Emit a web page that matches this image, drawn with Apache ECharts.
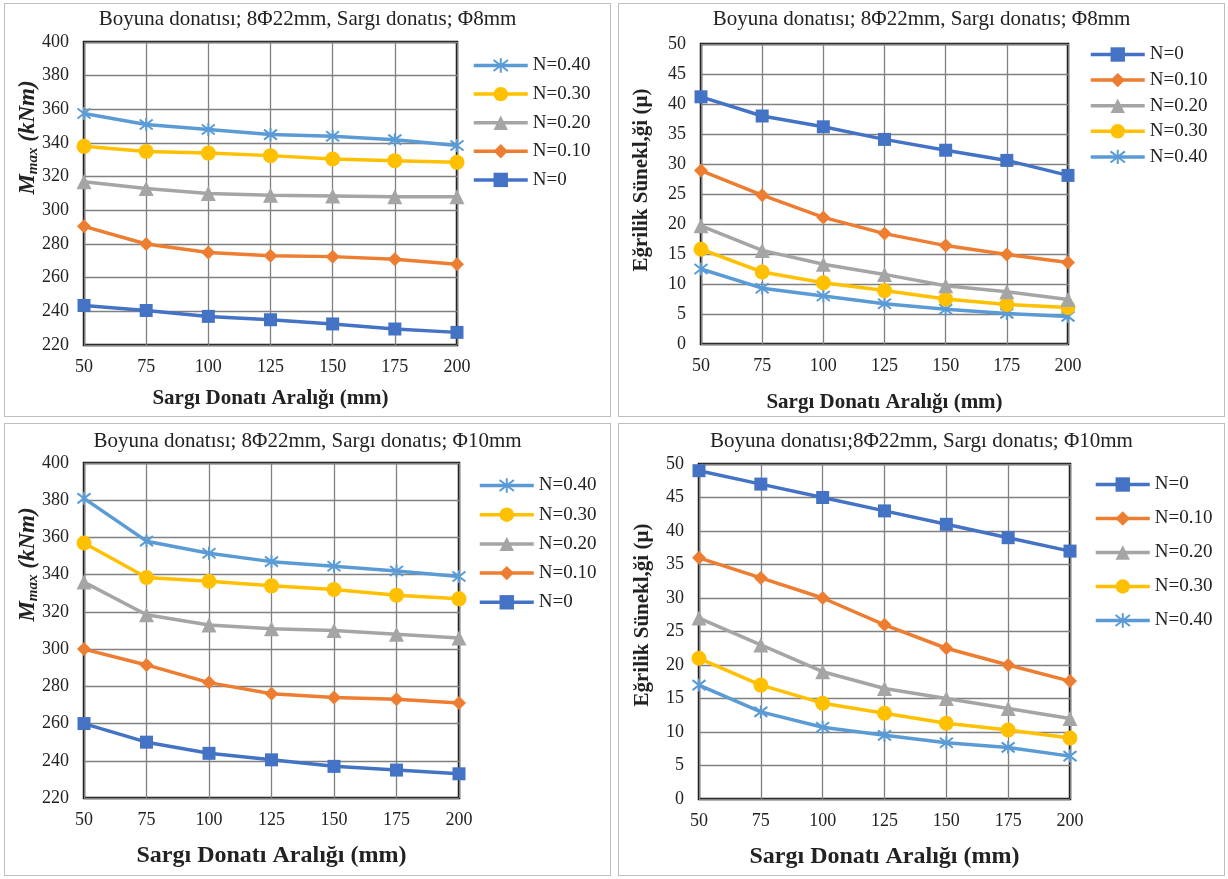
<!DOCTYPE html>
<html><head><meta charset="utf-8">
<script src="https://cdn.jsdelivr.net/npm/echarts@6/dist/echarts.min.js"></script>
<style>
html,body{margin:0;padding:0;background:#fff;width:1228px;height:879px;overflow:hidden}
.p{position:absolute;box-sizing:border-box;border:1px solid #BFBFBF;background:#fff}
</style></head><body>
<div id="c1" class="p" style="left:4px;top:3px;width:607px;height:414px"></div>
<div id="c2" class="p" style="left:618px;top:3px;width:607px;height:414px"></div>
<div id="c3" class="p" style="left:4px;top:423px;width:607px;height:453px"></div>
<div id="c4" class="p" style="left:618px;top:423px;width:607px;height:453px"></div>
<script>
// ---- data ----
const spacing = [50, 75, 100, 125, 150, 175, 200];
const seriesNames = ['N=0', 'N=0.10', 'N=0.20', 'N=0.30', 'N=0.40'];

// Panel 1: Mmax, Φ8
const m8_N0   = [243.5, 240.5, 237, 235, 232.5, 229.5, 227.5];
const m8_N010 = [290.5, 280, 275, 273, 272.5, 271, 268];
const m8_N020 = [317, 313, 310, 309, 308.5, 308, 308];
const m8_N030 = [338, 335, 334, 332.5, 330.5, 329.5, 328.5];
const m8_N040 = [357.5, 351, 348, 345, 344, 342, 338.5];

// Panel 2: curvature ductility, Φ8
const d8_N0   = [41.2, 38, 36.2, 34.1, 32.3, 30.6, 28.1];
const d8_N010 = [28.9, 24.8, 21.1, 18.4, 16.4, 14.9, 13.6];
const d8_N020 = [19.7, 15.6, 13.3, 11.6, 9.7, 8.7, 7.4];
const d8_N030 = [15.8, 12, 10.2, 8.9, 7.5, 6.6, 6.1];
const d8_N040 = [12.5, 9.3, 8.0, 6.7, 5.8, 5.1, 4.6];

// Panel 3: Mmax, Φ10
const m10_N0   = [260, 250, 244, 240.5, 237, 235, 233];
const m10_N010 = [300, 291.5, 282, 276, 274, 273, 271];
const m10_N020 = [336, 318.5, 313, 311, 310, 308, 306];
const m10_N030 = [357, 338.5, 336.5, 334, 332, 329, 327];
const m10_N040 = [381, 358, 351.5, 347, 344.5, 342, 339];

// Panel 4: curvature ductility, Φ10
const d10_N0   = [49, 47, 45, 43, 41, 39, 37];
const d10_N010 = [36, 33, 30, 26, 22.5, 20, 17.6];
const d10_N020 = [27, 23, 19, 16.5, 15, 13.5, 12];
const d10_N030 = [21, 17, 14.3, 12.8, 11.3, 10.3, 9.1];
const d10_N040 = [17, 13, 10.7, 9.5, 8.4, 7.7, 6.4];

const titles = [
  'Boyuna donatısı; 8Φ22mm, Sargı donatıs; Φ8mm',
  'Boyuna donatısı; 8Φ22mm, Sargı donatıs; Φ8mm',
  'Boyuna donatısı; 8Φ22mm, Sargı donatıs; Φ10mm',
  'Boyuna donatısı;8Φ22mm, Sargı donatıs; Φ10mm'
];
const xName = 'Sargı Donatı Aralığı (mm)';
const yNameDuct = 'Eğrilik Sünekl,ği (µ)';
const mTicks = [220, 400, 20];
const dTicks = [0, 50, 5];

// ---- styles ----
const FONT = '"Liberation Serif","Times New Roman",serif';
const colors = ['#4472C4', '#ED7D31', '#A5A5A5', '#FFC000', '#5B9BD5'];
const symbols = ['rect', 'diamond', 'triangle', 'circle',
  'path://M0,0L10,10M10,0L0,10M5,-1.5L5,11.5'];
const symSizes = [13, 14, 15, 15, 13];

function build(el, cfg) {
  const chart = echarts.init(document.getElementById(el), null, {renderer: 'canvas'});
  const sets = cfg.data;
  const series = seriesNames.map((n, i) => ({
    name: n, type: 'line',
    data: spacing.map((x, j) => [x, sets[i][j]]),
    symbol: symbols[i], symbolSize: symSizes[i],
    lineStyle: {color: colors[i], width: 3.5},
    itemStyle: i === 4 ? {color: colors[i], borderColor: colors[i], borderWidth: 2}
                       : {color: colors[i], borderWidth: 0},
    z: 10 - i,
    animation: false
  }));
  const legendOrder = cfg.legendOrder.map(k => seriesNames[k]);
  chart.setOption({
    animation: false,
    title: {text: cfg.title, left: 'center', top: cfg.titleTop, padding: 0,
      textStyle: {fontFamily: FONT, fontSize: 21, fontWeight: 'normal', color: '#222'}},
    grid: {left: cfg.grid[0], top: cfg.grid[1], width: cfg.grid[2], height: cfg.grid[3],
      outerBoundsMode: 'none', containLabel: false,
      show: true, borderColor: '#111', borderWidth: 2.5, backgroundColor: 'transparent'},
    legend: {orient: 'vertical', left: cfg.legend[0], top: cfg.legend[1], padding: 0,
      itemGap: cfg.legend[2], itemWidth: 54, itemHeight: 18, data: legendOrder,
      lineStyle: {width: 3.5},
      textStyle: {fontFamily: FONT, fontSize: 19, color: '#222'}},
    xAxis: {type: 'value', min: 50, max: 200, interval: 25,
      name: xName, nameLocation: 'middle', nameGap: cfg.xNameGap, nameMoveOverlap: false,
      nameTextStyle: {fontFamily: FONT, fontSize: cfg.xNameSize, fontWeight: 'bold', color: '#222'},
      axisLine: {show: false}, axisTick: {show: false},
      axisLabel: {fontFamily: FONT, fontSize: 18, color: '#222', margin: 13},
      splitLine: {show: true, lineStyle: {color: '#808080', width: 1.3}}},
    yAxis: {type: 'value', min: cfg.ticks[0], max: cfg.ticks[1], interval: cfg.ticks[2],
      name: cfg.yName, nameLocation: 'middle', nameGap: cfg.yNameGap, nameRotate: 90,
      nameMoveOverlap: false,
      nameTextStyle: Object.assign({}, cfg.yNameStyle, {padding: [0, 0, 0, cfg.yShift]}),
      axisLine: {show: false}, axisTick: {show: false},
      axisLabel: {fontFamily: FONT, fontSize: 18, color: '#222', margin: 15},
      splitLine: {show: true, lineStyle: {color: '#808080', width: 1.3}}},
    series: series
  });
}

const mNameStyle = {
  fontFamily: FONT, color: '#222',
  rich: {
    a: {fontFamily: FONT, fontSize: 23, fontWeight: 'bold', fontStyle: 'italic', color: '#222'},
    b: {fontFamily: FONT, fontSize: 15, fontWeight: 'bold', fontStyle: 'italic', color: '#222', padding: [11, 0, 0, 0]},
    c: {fontFamily: FONT, fontSize: 23, fontWeight: 'bold', fontStyle: 'italic', color: '#222'}
  }
};
const mName = '{a|M}{b|max}{c| (kNm)}';
const dNameStyle = {fontFamily: FONT, fontSize: 21, fontWeight: 'bold', color: '#222'};

build('c1', {title: titles[0], titleTop: 5, data: [m8_N0, m8_N010, m8_N020, m8_N030, m8_N040],
  grid: [79, 38, 373, 303], legend: [467, 52, 9.6], legendOrder: [4, 3, 2, 1, 0],
  ticks: mTicks, yName: mName, yNameStyle: mNameStyle, yNameGap: 43, yShift: 112,
  xNameGap: 43, xNameSize: 21});
build('c2', {title: titles[1], titleTop: 5, data: [d8_N0, d8_N010, d8_N020, d8_N030, d8_N040],
  grid: [82, 40, 367, 300], legend: [470, 41, 6.6], legendOrder: [0, 1, 2, 3, 4],
  ticks: dTicks, yName: yNameDuct, yNameStyle: dNameStyle, yNameGap: 49, yShift: 28,
  xNameGap: 48, xNameSize: 21});
build('c3', {title: titles[2], titleTop: 7, data: [m10_N0, m10_N010, m10_N020, m10_N030, m10_N040],
  grid: [79, 39, 375, 335], legend: [473, 52, 10.2], legendOrder: [4, 3, 2, 1, 0],
  ticks: mTicks, yName: mName, yNameStyle: mNameStyle, yNameGap: 43, yShift: 132,
  xNameGap: 46, xNameSize: 24});
build('c4', {title: titles[3], titleTop: 7, data: [d10_N0, d10_N010, d10_N020, d10_N030, d10_N040],
  grid: [80, 40, 371, 335], legend: [475, 51, 15], legendOrder: [0, 1, 2, 3, 4],
  ticks: dTicks, yName: yNameDuct, yNameStyle: dNameStyle, yNameGap: 46, yShift: 33,
  xNameGap: 46, xNameSize: 24});
</script>
</body></html>
